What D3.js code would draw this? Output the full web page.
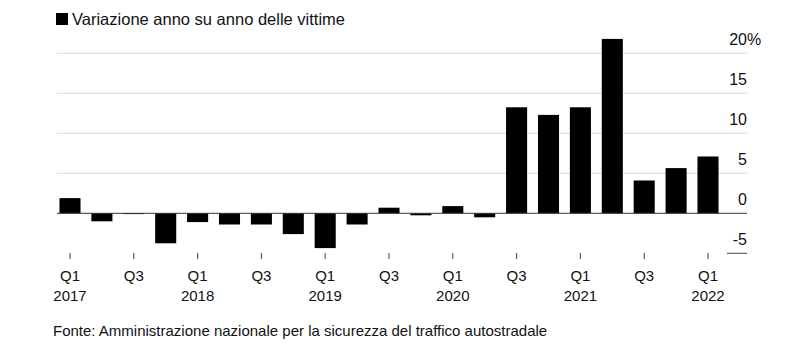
<!DOCTYPE html>
<html><head><meta charset="utf-8">
<script src="https://cdn.jsdelivr.net/npm/d3@7"></script>
<style>
body{margin:0;background:#fff;}
text{font-family:"Liberation Sans",Arial,sans-serif;fill:#111;}
</style></head>
<body><svg id="c" width="800" height="358"></svg>
<script>
const quarters = ["Q1 2017","Q2 2017","Q3 2017","Q4 2017","Q1 2018","Q2 2018","Q3 2018","Q4 2018","Q1 2019","Q2 2019","Q3 2019","Q4 2019","Q1 2020","Q2 2020","Q3 2020","Q4 2020","Q1 2021","Q2 2021","Q3 2021","Q4 2021","Q1 2022"];
const values = [1.9,-1.0,-0.1,-3.75,-1.1,-1.4,-1.4,-2.6,-4.35,-1.4,0.7,-0.25,0.9,-0.5,13.25,12.3,13.25,21.8,4.1,5.65,7.1];
const yTicks = [20,15,10,5,0,-5];
const xTickLabels = {"Q1 2017":["Q1","2017"],"Q3 2017":["Q3",""],"Q1 2018":["Q1","2018"],"Q3 2018":["Q3",""],"Q1 2019":["Q1","2019"],"Q3 2019":["Q3",""],"Q1 2020":["Q1","2020"],"Q3 2020":["Q3",""],"Q1 2021":["Q1","2021"],"Q3 2021":["Q3",""],"Q1 2022":["Q1","2022"]};
const title = "Variazione anno su anno delle vittime";
const source = "Fonte: Amministrazione nazionale per la sicurezza del traffico autostradale";

const svg = d3.select("#c");
const x = d3.scaleBand().domain(quarters).range([54.05, 723.95]).paddingInner(0.34).paddingOuter(0.17);
const y = d3.scaleLinear().domain([-5, 20]).range([253.3, 53.3]);
const gridL = 57, gridR = 747;

// legend/title
svg.append("rect").attr("x",56).attr("y",13).attr("width",12).attr("height",12).attr("fill","#000");
svg.append("text").attr("x",72).attr("y",25).attr("font-size",16.5).text(title);

// gridlines
yTicks.forEach(t=>{
  if (t === 0) return;
  const x1 = t === -5 ? 727 : gridL;
  svg.append("line").attr("x1",x1).attr("x2",gridR).attr("y1",y(t)).attr("y2",y(t))
     .attr("stroke", t === -5 ? "#444" : "#dcdcdc").attr("stroke-width",1);
});
// y labels
yTicks.forEach(t=>{
  svg.append("text").attr("x",gridR).attr("y",y(t)-8).attr("font-size",16).attr("text-anchor","end").text(t);
  if (t === 20) {
    svg.append("text").attr("x",gridR).attr("y",y(t)-8).attr("font-size",16).text("%");
  }
});

// bars
svg.selectAll("rect.bar").data(values).enter().append("rect").attr("class","bar")
  .attr("x",(d,i)=>x(quarters[i]))
  .attr("width",x.bandwidth())
  .attr("y",d=>y(Math.max(0,d)))
  .attr("height",d=>Math.abs(y(d)-y(0)))
  .attr("fill","#000");

// zero line
svg.append("line").attr("x1",gridL).attr("x2",gridR).attr("y1",y(0)).attr("y2",y(0)).attr("stroke","#333").attr("stroke-width",1);

// x ticks & labels
Object.keys(xTickLabels).forEach(q=>{
  const cx = x(q) + x.bandwidth()/2;
  svg.append("line").attr("x1",cx).attr("x2",cx).attr("y1",253).attr("y2",259).attr("stroke","#444").attr("stroke-width",1);
  const [a,b] = xTickLabels[q];
  svg.append("text").attr("x",cx).attr("y",281).attr("font-size",15).attr("text-anchor","middle").text(a);
  if (b) svg.append("text").attr("x",cx).attr("y",301).attr("font-size",15).attr("text-anchor","middle").text(b);
});

// source
svg.append("text").attr("x",53).attr("y",336).attr("font-size",15).text(source);
</script></body></html>
